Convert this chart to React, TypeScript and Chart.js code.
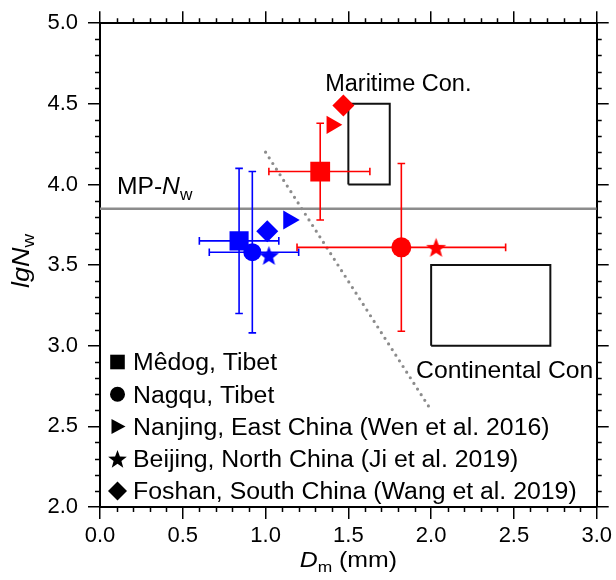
import React, { useEffect, useRef } from "react";
import { Chart, registerables } from "chart.js";

Chart.register(...registerables);

// ---------- data ----------
const sites = [
  "Mêdog, Tibet",
  "Nagqu, Tibet",
  "Nanjing, East China (Wen et al. 2016)",
  "Beijing, North China (Ji et al. 2019)",
  "Foshan, South China (Wang et al. 2019)",
];
const markerStyles = ["rect", "circle", "triangle", "star", "rectRot"];

const blueDm = [0.84, 0.92, 1.14, 1.02, 1.01];
const blueNw = [3.65, 3.58, 3.78, 3.56, 3.71];
const redDm = [1.33, 1.82, 1.4, 2.03, 1.47];
const redNw = [4.08, 3.61, 4.37, 3.61, 4.49];

const blueDmLow = [0.6, 0.66, null, null, null];
const blueDmHigh = [1.08, 1.2, null, null, null];
const blueNwLow = [3.2, 3.08, null, null, null];
const blueNwHigh = [4.1, 4.08, null, null, null];
const redDmLow = [1.02, 1.19, null, null, null];
const redDmHigh = [1.63, 2.45, null, null, null];
const redNwLow = [3.78, 3.09, null, null, null];
const redNwHigh = [4.38, 4.13, null, null, null];

const mpNw = 3.85;
const dividerDm = [1.0, 2.0];
const dividerNw = [4.2, 2.6];
const maritimeDm = [1.5, 1.75];
const maritimeNw = [4.0, 4.5];
const continentalDm = [2.0, 2.72];
const continentalNw = [3.0, 3.5];

const xMin = 0, xMax = 3, yMin = 2, yMax = 5, majorStep = 0.5, minorStep = 0.1;

// ---------- styles ----------
const BLUE = "#0000ff";
const RED = "#ff0000";
const GRAY = "#8c8c8c";
const FONT = '"Liberation Sans", Arial, Helvetica, sans-serif';

type Part = { t: string; it?: boolean; sub?: boolean };

function partFont(p: Part, size: number) {
  const s = p.sub ? size * 0.7 : size;
  return `${p.it ? "italic " : ""}${s}px ${FONT}`;
}
function richWidth(ctx: CanvasRenderingContext2D, parts: Part[], size: number) {
  let w = 0;
  for (const p of parts) {
    ctx.font = partFont(p, size);
    w += ctx.measureText(p.t).width;
  }
  return w;
}
function drawRich(
  ctx: CanvasRenderingContext2D,
  parts: Part[],
  x: number,
  y: number,
  size: number,
  sx: number,
  align: "left" | "center" = "left",
  rot = 0
) {
  ctx.save();
  ctx.translate(x, y);
  if (rot) ctx.rotate(rot);
  ctx.scale(sx, 1);
  ctx.fillStyle = "#000";
  ctx.textBaseline = "alphabetic";
  ctx.textAlign = "left";
  let cx = align === "center" ? -richWidth(ctx, parts, size) / 2 : 0;
  for (const p of parts) {
    ctx.font = partFont(p, size);
    ctx.fillText(p.t, cx, p.sub ? size * 0.25 : 0);
    cx += ctx.measureText(p.t).width;
  }
  ctx.restore();
}

function markerPath(ctx: CanvasRenderingContext2D, style: string, x: number, y: number, r: number) {
  ctx.beginPath();
  if (style === "rect") {
    ctx.rect(x - r, y - r, 2 * r, 2 * r);
  } else if (style === "circle") {
    ctx.arc(x, y, r, 0, Math.PI * 2);
  } else if (style === "triangle") {
    ctx.moveTo(x + r, y);
    ctx.lineTo(x - r * 0.75, y - r * 0.95);
    ctx.lineTo(x - r * 0.75, y + r * 0.95);
    ctx.closePath();
  } else if (style === "rectRot") {
    ctx.moveTo(x, y - r);
    ctx.lineTo(x + r, y);
    ctx.lineTo(x, y + r);
    ctx.lineTo(x - r, y);
    ctx.closePath();
  } else if (style === "star") {
    for (let k = 0; k < 10; k++) {
      const a = -Math.PI / 2 + (k * Math.PI) / 5;
      const rr = k % 2 ? r * 0.42 : r;
      const px = x + Math.cos(a) * rr;
      const py = y + Math.sin(a) * rr;
      if (k === 0) ctx.moveTo(px, py);
      else ctx.lineTo(px, py);
    }
    ctx.closePath();
  }
}

function makeStar(color: string, r: number) {
  const c = document.createElement("canvas");
  const s = Math.ceil(r * 2 + 2);
  c.width = s;
  c.height = s;
  const g = c.getContext("2d")!;
  g.fillStyle = color;
  markerPath(g, "star", s / 2, s / 2 + r * 0.1, r);
  g.fill();
  return c;
}

function pts(xs: number[], ys: number[]) {
  return xs.map((x, i) => ({ x, y: ys[i] }));
}
function boxPts(xs: number[], ys: number[]) {
  return [
    { x: xs[0], y: ys[0] },
    { x: xs[1], y: ys[0] },
    { x: xs[1], y: ys[1] },
    { x: xs[0], y: ys[1] },
    { x: xs[0], y: ys[0] },
  ];
}

function drawErrorBars(chart: any) {
  const ctx: CanvasRenderingContext2D = chart.ctx;
  const xs = chart.scales.x;
  const ys = chart.scales.y;
  const groups = [
    { c: BLUE, dm: blueDm, nw: blueNw, dl: blueDmLow, dh: blueDmHigh, nl: blueNwLow, nh: blueNwHigh },
    { c: RED, dm: redDm, nw: redNw, dl: redDmLow, dh: redDmHigh, nl: redNwLow, nh: redNwHigh },
  ];
  const cap = 3.8;
  ctx.save();
  ctx.lineWidth = 1.6;
  for (const g of groups) {
    ctx.strokeStyle = g.c;
    for (let i = 0; i < g.dm.length; i++) {
      const px = xs.getPixelForValue(g.dm[i]);
      const py = ys.getPixelForValue(g.nw[i]);
      ctx.beginPath();
      if (g.dl[i] != null && g.dh[i] != null) {
        const a = xs.getPixelForValue(g.dl[i]);
        const b = xs.getPixelForValue(g.dh[i]);
        ctx.moveTo(a, py); ctx.lineTo(b, py);
        ctx.moveTo(a, py - cap); ctx.lineTo(a, py + cap);
        ctx.moveTo(b, py - cap); ctx.lineTo(b, py + cap);
      }
      if (g.nl[i] != null && g.nh[i] != null) {
        const a = ys.getPixelForValue(g.nl[i]);
        const b = ys.getPixelForValue(g.nh[i]);
        ctx.moveTo(px, a); ctx.lineTo(px, b);
        ctx.moveTo(px - cap, a); ctx.lineTo(px + cap, a);
        ctx.moveTo(px - cap, b); ctx.lineTo(px + cap, b);
      }
      ctx.stroke();
    }
  }
  ctx.restore();
}

const overlayPlugin = {
  id: "overlay",
  afterDatasetDraw(chart: any, args: any) {
    if (chart.data.datasets[args.index].label === "MP-Nw") drawErrorBars(chart);
  },
  afterDraw(chart: any) {
    const ctx: CanvasRenderingContext2D = chart.ctx;
    const ca = chart.chartArea;
    const xs = chart.scales.x;
    const ys = chart.scales.y;

    // minor ticks on all four sides
    ctx.save();
    ctx.strokeStyle = "#000";
    ctx.lineWidth = 1.5;
    ctx.beginPath();
    const nx = Math.round((xMax - xMin) / minorStep);
    for (let i = 1; i < nx; i++) {
      const v = xMin + i * minorStep;
      if (i % Math.round(majorStep / minorStep) === 0) continue;
      const p = Math.round(xs.getPixelForValue(v)) + 0.5;
      ctx.moveTo(p, ca.bottom); ctx.lineTo(p, ca.bottom + 5);
      ctx.moveTo(p, ca.top); ctx.lineTo(p, ca.top - 5);
    }
    const ny = Math.round((yMax - yMin) / minorStep);
    for (let i = 1; i < ny; i++) {
      const v = yMin + i * minorStep;
      if (i % Math.round(majorStep / minorStep) === 0) continue;
      const p = Math.round(ys.getPixelForValue(v)) + 0.5;
      ctx.moveTo(ca.left, p); ctx.lineTo(ca.left - 5, p);
      ctx.moveTo(ca.right, p); ctx.lineTo(ca.right + 5, p);
    }
    ctx.stroke();
    ctx.restore();

    // annotations
    drawRich(ctx, [{ t: "Maritime Con." }], xs.getPixelForValue(1.36), ys.getPixelForValue(4.58), 23.5, 1.0);
    drawRich(ctx, [{ t: "Continental Con" }], xs.getPixelForValue(1.909), ys.getPixelForValue(2.8), 24, 1.03);
    drawRich(
      ctx,
      [{ t: "MP-" }, { t: "N", it: true }, { t: "w", sub: true }],
      xs.getPixelForValue(0.102),
      ys.getPixelForValue(3.943),
      23.5,
      1.05
    );

    // legend (black markers)
    const legR = [7.3, 7.5, 8, 9.8, 9.5];
    for (let i = 0; i < sites.length; i++) {
      const cy = ca.bottom - 16 - (sites.length - 1 - i) * 32.25;
      const mx = ca.left + 17.5;
      ctx.save();
      ctx.fillStyle = "#000";
      markerPath(ctx, markerStyles[i], mx, cy + (markerStyles[i] === "star" ? 1 : 0), legR[i]);
      ctx.fill();
      ctx.restore();
      drawRich(ctx, [{ t: sites[i] }], ca.left + 33, cy + 8.3, 23, 1.08);
    }

    // axis titles
    drawRich(
      ctx,
      [{ t: "D", it: true }, { t: "m", sub: true }, { t: " (mm)" }],
      (ca.left + ca.right) / 2,
      566.5,
      22,
      1.13,
      "center"
    );
    drawRich(
      ctx,
      [{ t: "lgN", it: true }, { t: "w", sub: true }],
      28.5,
      261,
      23.5,
      1.15,
      "center",
      -Math.PI / 2
    );
  },
};

export default function App() {
  const ref = useRef<HTMLCanvasElement | null>(null);

  useEffect(() => {
    document.body.style.margin = "0";
    const canvas = ref.current!;
    const starBlue = makeStar(BLUE, 10.5);
    const starRed = makeStar(RED, 10.5);
    const styleFor = (star: HTMLCanvasElement) =>
      markerStyles.map((s) => (s === "star" ? star : s));

    const tickFont = { family: FONT, size: 22 };
    const axisCommon = {
      type: "linear",
      grid: { drawOnChartArea: false, drawTicks: true, tickLength: 12, color: "#000", lineWidth: 1.5 },
      border: { color: "#000", width: 2 },
    };

    const chart = new Chart(canvas, {
      type: "scatter",
      data: {
        datasets: [
          {
            label: "blue",
            data: pts(blueDm, blueNw),
            pointStyle: styleFor(starBlue) as any,
            pointRadius: [13.5, 9, 11, 10, 11],
            pointRotation: [0, 0, 90, 0, 0],
            backgroundColor: BLUE,
            borderColor: BLUE,
            pointBorderWidth: 0,
            showLine: false,
          },
          {
            label: "red",
            data: pts(redDm, redNw),
            pointStyle: styleFor(starRed) as any,
            pointRadius: [14, 10, 10.5, 10, 11],
            pointRotation: [0, 0, 90, 0, 0],
            backgroundColor: RED,
            borderColor: RED,
            pointBorderWidth: 0,
            showLine: false,
          },
          {
            label: "MP-Nw",
            data: [
              { x: xMin, y: mpNw },
              { x: xMax, y: mpNw },
            ],
            showLine: true,
            borderColor: GRAY,
            borderWidth: 2.5,
            pointRadius: 0,
          },
          {
            label: "divider",
            data: pts(dividerDm, dividerNw),
            showLine: true,
            borderColor: GRAY,
            borderWidth: 3.2,
            borderDash: [0, 6.7],
            borderCapStyle: "round",
            pointRadius: 0,
          },
          {
            label: "Maritime",
            data: boxPts(maritimeDm, maritimeNw),
            showLine: true,
            borderColor: "#111",
            borderWidth: 2,
            pointRadius: 0,
          },
          {
            label: "Continental",
            data: boxPts(continentalDm, continentalNw),
            showLine: true,
            borderColor: "#111",
            borderWidth: 2,
            pointRadius: 0,
          },
        ],
      },
      options: {
        responsive: false,
        animation: false,
        events: [],
        layout: { padding: 0, autoPadding: false },
        plugins: { legend: { display: false }, tooltip: { enabled: false } },
        scales: {
          x: {
            ...axisCommon,
            position: "bottom",
            min: xMin,
            max: xMax,
            ticks: {
              stepSize: majorStep,
              font: tickFont,
              color: "#000",
              padding: 4,
              maxRotation: 0,
              autoSkip: false,
              callback: (v: any) => Number(v).toFixed(1),
            },
            afterFit: (s: any) => {
              s.height = 73;
            },
          },
          y: {
            ...axisCommon,
            position: "left",
            min: yMin,
            max: yMax,
            ticks: {
              stepSize: majorStep,
              font: tickFont,
              color: "#000",
              padding: 10,
              autoSkip: false,
              callback: (v: any) => Number(v).toFixed(1),
            },
            afterFit: (s: any) => {
              s.width = 100;
            },
          },
          x2: {
            ...axisCommon,
            position: "top",
            min: xMin,
            max: xMax,
            ticks: { stepSize: majorStep, display: false },
            afterFit: (s: any) => {
              s.height = 20;
            },
          },
          y2: {
            ...axisCommon,
            position: "right",
            min: yMin,
            max: yMax,
            ticks: { stepSize: majorStep, display: false },
            afterFit: (s: any) => {
              s.width = 17;
            },
          },
        },
      } as any,
      plugins: [overlayPlugin],
    });
    return () => chart.destroy();
  }, []);

  return (
    <canvas ref={ref} width={616} height={580} style={{ display: "block", width: 616, height: 580 }} />
  );
}
